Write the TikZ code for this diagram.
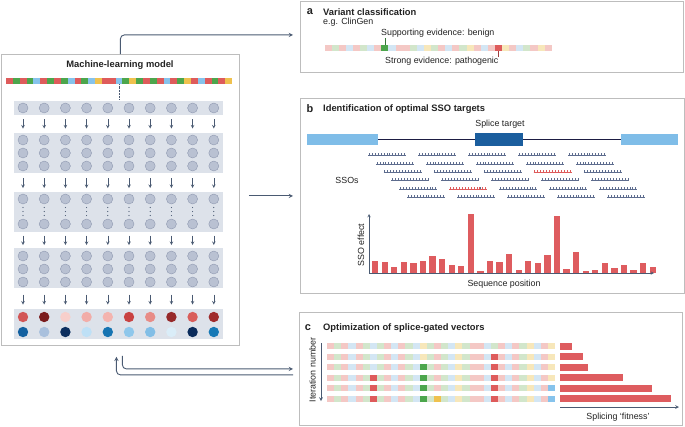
\documentclass[tikz,border=0pt]{standalone}
\usepackage{fontspec}
\setmainfont{Liberation Sans}
\usepackage{xcolor}
\usetikzlibrary{positioning}

\definecolor{panelline}{HTML}{BDBDBD}
\definecolor{flowcol}{HTML}{4A5A72}
\definecolor{layerfill}{HTML}{DDE2EA}
\definecolor{neufill}{HTML}{B9C1D2}
\definecolor{neuline}{HTML}{8F99B0}
\definecolor{strR}{HTML}{DE5B5B}
\definecolor{strG}{HTML}{4CA64C}
\definecolor{strB}{HTML}{86C3EC}
\definecolor{strY}{HTML}{EFC14E}
\definecolor{palR}{HTML}{F4C8C5}
\definecolor{palG}{HTML}{D2E6CB}
\definecolor{palB}{HTML}{D3E6F4}
\definecolor{palY}{HTML}{F7E7BA}
\definecolor{barcol}{HTML}{DE5C5F}
\definecolor{exonlight}{HTML}{7FBDE8}
\definecolor{exondark}{HTML}{1B5E9E}
\definecolor{ssocol}{HTML}{5D6C8E}
\definecolor{txt}{HTML}{222222}

\begin{document}
\begin{tikzpicture}[x=1bp, y=-1bp, >=stealth,
		panel/.style={draw=panelline, line width=0.8pt, anchor=north west, inner sep=0pt},
		neuron/.style={fill=neufill, draw=neuline, line width=0.4pt},
		flow/.style={draw=flowcol, line width=0.9pt, ->},
		smallarrow/.style={draw=flowcol, line width=0.6pt, ->},
		heading/.style={font=\fontsize{9.4}{11}\selectfont\bfseries, text=txt, anchor=west, inner sep=0pt},
		letter/.style={font=\fontsize{11}{13}\selectfont\bfseries, text=txt, inner sep=0pt},
		lbl/.style={font=\fontsize{8.9}{10}\selectfont, text=txt, inner sep=0pt}]
	\useasboundingbox (0,0) rectangle (685,426);

	\node[panel, minimum width=238bp, minimum height=291bp] (model) at (1,54) {};
	\node[panel, minimum width=383bp, minimum height=71bp] (pa) at (300,1) {};
	\node[panel, minimum width=384bp, minimum height=195bp] (pb) at (300,98) {};
	\node[panel, minimum width=383bp, minimum height=113bp] (pc) at (299,312) {};

	\node[heading, anchor=center] (mltitle) at (120,65) {Machine-learning model};
	\foreach \c [count=\i from 0] in {R,G,R,G,B,R,G,R,G,B,R,G,B,Y,R,R,B,G,Y,G,R,G,R,B,R,G,Y,R,B,R,G,R,Y}
		\fill[fill=str\c] (6+6.85*\i,78) rectangle ++(6.85,6);
	\draw[densely dotted, flowcol, line width=0.5pt] (119.5,84) -- (119.5,100);

	\fill[layerfill] (14,101) rectangle (223,115);
	\fill[layerfill] (14,133) rectangle (223,173);
	\fill[layerfill] (14,192) rectangle (223,232);
	\fill[layerfill] (14,248) rectangle (223,288);
	\fill[layerfill] (14,309) rectangle (223,339);
	\foreach \i in {0,...,9} {
		\foreach \y in {108,140,153,166,199,224,256,269,282}
			\draw[neuron] (23+21.2*\i,\y) circle (5);
		\foreach \y in {207.5,211.5,215.5}
			\fill[flowcol] (23+21.2*\i,\y) circle (0.6);
		\foreach \ya/\yb in {119/128.5,178/188,235.5/245,294.5/304.5}
			\draw[smallarrow] (23+21.2*\i,\ya) -- (23+21.2*\i,\yb);
	}
	\foreach \hx [count=\i from 0] in {D25656,7A1C1E,F7CFCB,F2ADA8,F4B4AF,C94242,E88C87,96292A,D95E5B,9F2B2C} {
		\definecolor{tmpcol}{HTML}{\hx}
		\fill[tmpcol] (23+21.2*\i,317) circle (5.2);
	}
	\foreach \hx [count=\i from 0] in {1260A0,A9C0DD,0C2F5F,BEE0F6,1674B2,8FC7EB,82BEE6,DAEDF8,0A2B5B,1679B6} {
		\definecolor{tmpcol}{HTML}{\hx}
		\fill[tmpcol] (23+21.2*\i,332) circle (5.2);
	}

	\draw[flow, rounded corners=4] (model.north) |- ([xshift=-7, yshift=2]pa.west);
	\draw[flow] ([xshift=9]model.east |- pb.west) -- ([xshift=-7]pb.west);
	\draw[flow, rounded corners=4] ([xshift=2, yshift=-10]model.south) |- ([xshift=-6]pc.west);
	\draw[flow, rounded corners=4] ([xshift=-6, yshift=-6]pc.west) -| ([xshift=-4, yshift=-11]model.south);

	\node[letter] (la) at (310,12) {a};
	\node[heading] (ta) at (323,12) {Variant classification};
	\node[lbl, anchor=west] (clingen) at (323,22.5) {e.g. ClinGen};
	\foreach \c [count=\i from 0] in {R,G,R,B,R,G,B,R,G,B,R,R,G,B,Y,G,R,B,R,G,Y,R,B,R,G,Y,R,B,G,R,Y,R}
		\fill[fill=pal\c] (324.5+7.1*\i,45) rectangle ++(7.1,6);
	\fill[strG] (324.5+7.1*8,45) rectangle ++(7.1,6);
	\fill[strR] (324.5+7.1*24,45) rectangle ++(7.1,6);
	\node[lbl, anchor=west] (benign) at (381,33) {Supporting evidence: benign};
	\node[lbl, anchor=west] (patho) at (385,61) {Strong evidence: pathogenic};
	\draw[strG!70!black, line width=0.5pt] (324.5+7.1*8.5,45) -- (324.5+7.1*8.5,38);
	\draw[strR!70!black, line width=0.5pt] (324.5+7.1*24.5,51) -- (324.5+7.1*24.5,57);

	\node[letter] (lb) at (310,109) {b};
	\node[heading] (tb) at (323,109) {Identification of optimal SSO targets};
	\node[lbl] (splice) at (500,124) {Splice target};
	\draw[txt!85!blue, line width=0.8pt] (378,139) -- (621,139);
	\fill[exonlight] (307,134) rectangle (378,144.5);
	\fill[exonlight] (621,134) rectangle (678,144.5);
	\fill[exondark] (475,132.5) rectangle (523,145.5);
	\foreach \r in {0,...,5}
		\foreach \k in {0,...,4} {
			\draw[ssocol, line width=0.5pt] (368+7.8*\r+50*\k,155.5+8.35*\r) -- ++(38,0);
			\foreach \t in {0,...,12}
				\draw[ssocol, line width=0.4pt] (369+7.8*\r+50*\k+2.95*\t,155.5+8.35*\r) -- ++(0,-2.3);
		}
	\foreach \r/\k in {2/3,4/1} {
		\draw[strR, line width=0.6pt] (368+7.8*\r+50*\k,155.5+8.35*\r) -- ++(38,0);
		\foreach \t in {0,...,12}
			\draw[strR, line width=0.5pt] (369+7.8*\r+50*\k+2.95*\t,155.5+8.35*\r) -- ++(0,-2.3);
	}
	\node[lbl] (ssos) at (347,180) {SSOs};
	\foreach \h [count=\i from 0] in {12.3,11.3,5.7,10.7,10.3,12.3,17.3,14.3,8.3,7.3,59.3,2,12,11.3,19.3,3,11.7,10.3,17.7,57,3.7,21.3,1.7,3.3,10.3,5,7.7,3.3,9.7,6.3}
		\fill[barcol] (372+9.57*\i,273) rectangle ++(6.3,-\h);
	\draw[flowcol, line width=0.5pt, ->] (369,273) -- (369,214);
	\draw[flowcol, line width=0.5pt, ->] (369,273) -- (654,273);
	\node[lbl, rotate=90] (effect) at (361,245) {SSO effect};
	\node[lbl] (seqpos) at (504,284.5) {Sequence position};

	\node[letter] (lc) at (308,328) {c};
	\node[heading] (tc) at (323,328) {Optimization of splice-gated vectors};
	\node[lbl, rotate=90] (iter) at (312.5,370) {Iteration number};
	\draw[flowcol, line width=0.7pt, ->] (321,343) -- (321,401);
	\foreach \row in {0,...,5}
		\foreach \c [count=\i from 0] in {R,G,R,B,R,G,B,G,R,B,R,G,B,Y,G,R,G,B,Y,G,R,R,B,G,R,B,R,G,Y,B,R,Y}
			\fill[fill=pal\c] (327+7.125*\i,343+10.5*\row) rectangle ++(7.125,6);
	\foreach \row/\idx/\c in {1/23/R,2/13/G,2/23/R,3/6/R,3/13/G,3/23/R,4/6/R,4/13/G,4/23/R,4/31/B,5/6/R,5/13/G,5/15/Y,5/23/R,5/31/B}
		\fill[fill=str\c] (327+7.125*\idx,343+10.5*\row) rectangle ++(7.125,6);
	\foreach \e [count=\i from 0] in {572,583,588,623,652,671}
		\fill[barcol] (560,342.5+10.5*\i) rectangle (\e,349.5+10.5*\i);
	\draw[flowcol, line width=0.7pt, ->] (560,407) -- (679,407);
	\node[lbl] (fitness) at (618,417) {Splicing ‘fitness’};
\end{tikzpicture}
\end{document}
